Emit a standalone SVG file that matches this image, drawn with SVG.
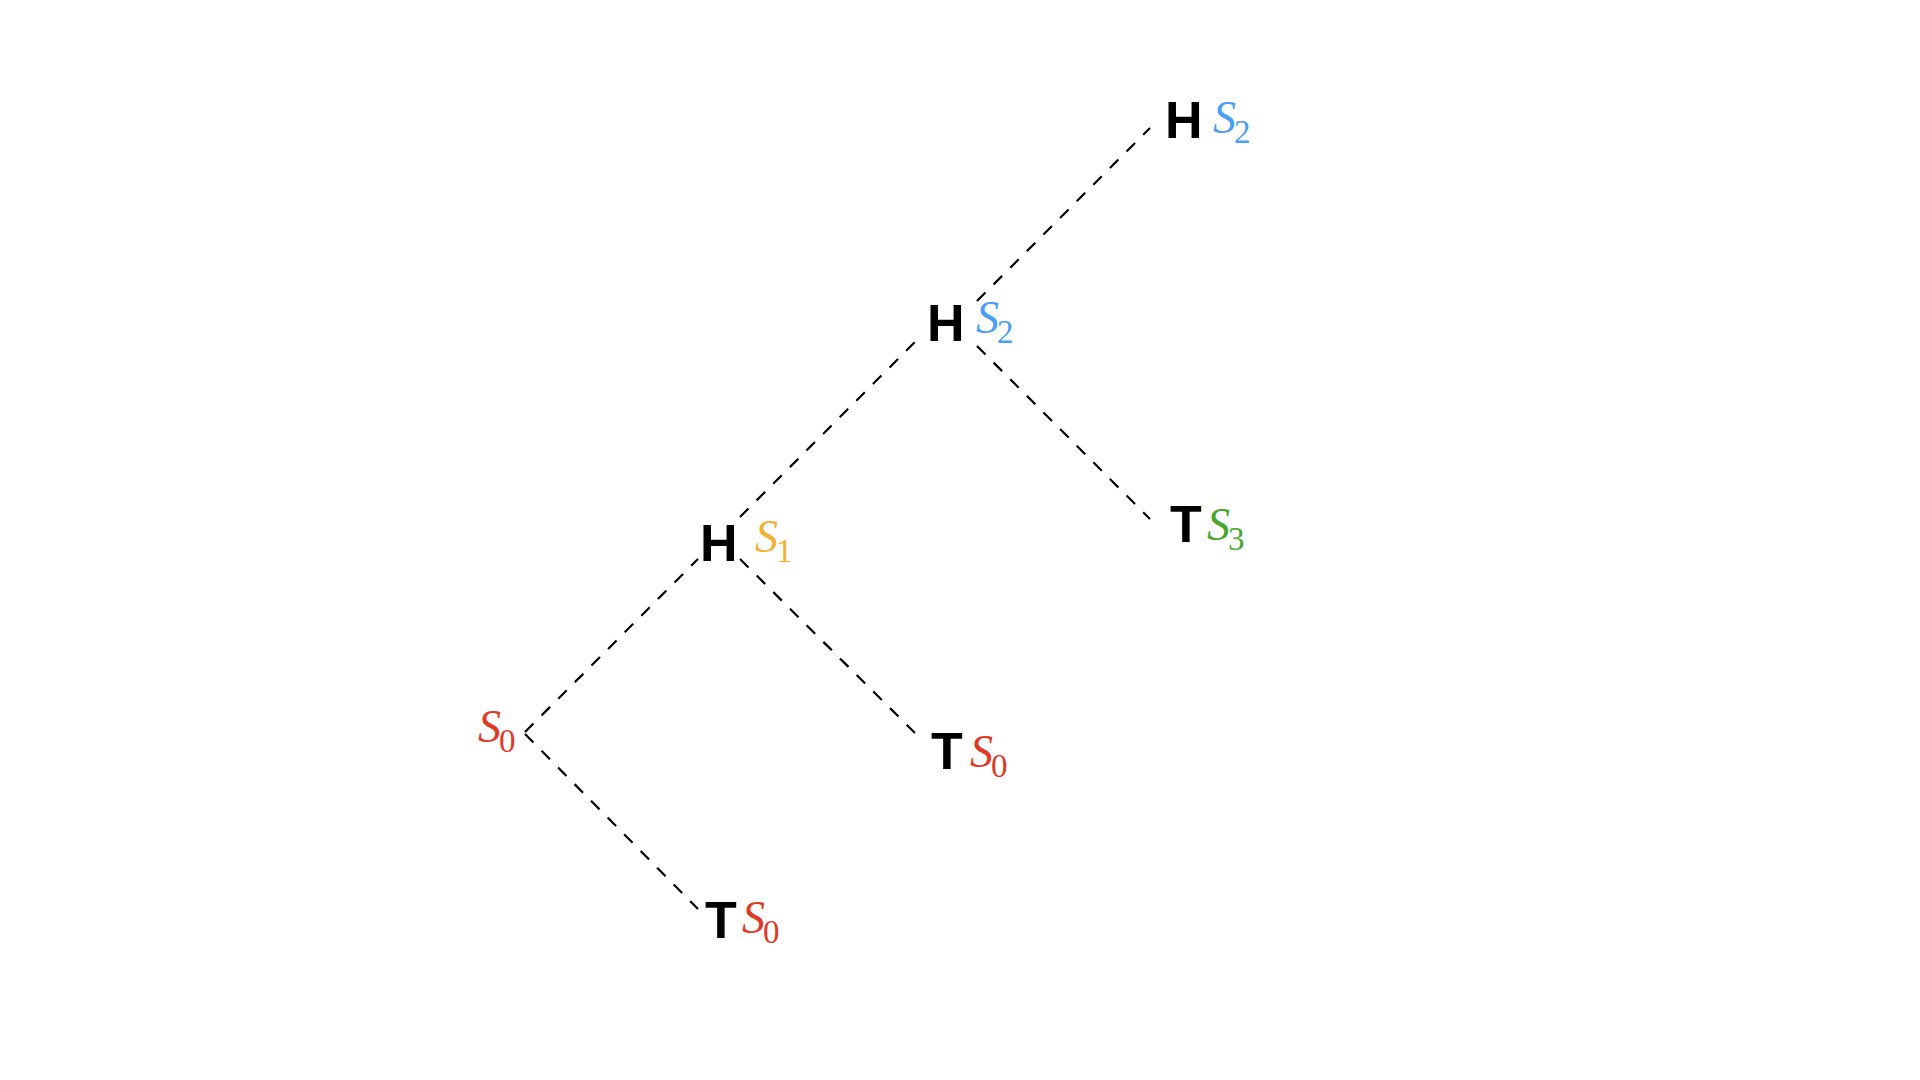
<svg xmlns="http://www.w3.org/2000/svg" width="1920" height="1080" viewBox="0 0 1920 1080">
<style>
.edge{stroke:#000;stroke-width:2.2;stroke-dasharray:12 11.5;fill:none}
.b{font-family:"Liberation Sans",Arial,sans-serif;font-weight:bold;font-size:52px;fill:#000}
.s{font-family:"Liberation Serif","Times New Roman",serif;font-style:italic;font-size:46px}
.sub{font-size:33px;font-style:normal}
.blue{fill:#4A9FF5}
.orange{fill:#F2B134}
.red{fill:#DE3A26}
.green{fill:#48A82E}
</style>
<rect width="1920" height="1080" fill="#fff"/>
<g id="connectors">
<line class="edge" x1="525" y1="732" x2="698" y2="559"/>
<line class="edge" x1="525" y1="734" x2="698" y2="909"/>
<line class="edge" x1="740" y1="517" x2="915" y2="342"/>
<line class="edge" x1="740" y1="559" x2="915" y2="733"/>
<line class="edge" x1="977" y1="301" x2="1150" y2="128"/>
<line class="edge" x1="977" y1="346" x2="1150" y2="519"/>
</g>
<g id="root">
<text class="s red" x="478" y="742">S<tspan class="sub" dx="-2" dy="10">0</tspan></text>
</g>
<g id="t-s0-bottom">
<text class="b" x="705" y="938">T</text>
<text class="s red" x="742" y="933">S<tspan class="sub" dx="-2" dy="10">0</tspan></text>
</g>
<g id="h-s1">
<text class="b" x="700" y="561">H</text>
<text class="s orange" x="755" y="552">S<tspan class="sub" dx="-2" dy="10">1</tspan></text>
</g>
<g id="t-s0-mid">
<text class="b" x="931" y="769">T</text>
<text class="s red" x="970" y="767">S<tspan class="sub" dx="-2" dy="10">0</tspan></text>
</g>
<g id="h-s2-mid">
<text class="b" x="927" y="341">H</text>
<text class="s blue" x="976" y="333">S<tspan class="sub" dx="-2" dy="10">2</tspan></text>
</g>
<g id="t-s3">
<text class="b" x="1170" y="542">T</text>
<text class="s green" x="1207" y="540">S<tspan class="sub" dx="-2" dy="10">3</tspan></text>
</g>
<g id="h-s2-top">
<text class="b" x="1165" y="138">H</text>
<text class="s blue" x="1213" y="133">S<tspan class="sub" dx="-2" dy="10">2</tspan></text>
</g>
</svg>
